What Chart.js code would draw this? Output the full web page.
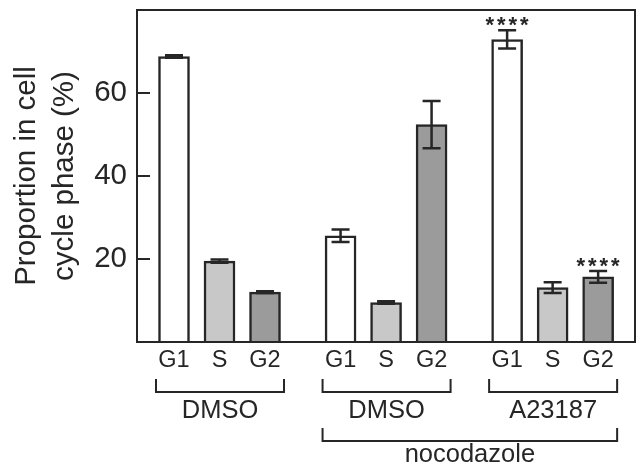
<!DOCTYPE html>
<html>
<head>
<meta charset="utf-8">
<script src="https://cdn.jsdelivr.net/npm/chart.js@4/dist/chart.umd.min.js"></script>
<style>
  html, body { margin: 0; padding: 0; background: #fff; }
  #wrap { width: 640px; height: 467px; }
</style>
</head>
<body>
<div id="wrap"><canvas id="cycleChart"></canvas></div>
<script>
const phases = ["G1", "S", "G2"];
const treatments = ["DMSO", "DMSO", "A23187"];
const meanValues = [68.8, 19.5, 12.0, 25.6, 9.5, 52.4, 72.9, 13.1, 15.7];
const errorValues = [0.3, 0.4, 0.2, 1.5, 0.3, 5.7, 2.2, 1.3, 1.4];
const starLabels = ["", "", "", "", "", "", "****", "", "****"];
const yTickValues = [20, 40, 60];
const nocodazoleLabel = "nocodazole";
const nocodazoleGroups = [1, 2];

const FONT = "'Liberation Sans', Arial, Helvetica, sans-serif";
const INK = "#262626";
const phaseColors = ["#ffffff", "#c8c8c8", "#9b9b9b"];
const groupStep = 3.66;

// bar positions on the linear x axis (layout only)
const barPositions = meanValues.map((_, i) => Math.floor(i / 3) * groupStep + (i % 3));
const barColors = meanValues.map((_, i) => phaseColors[i % 3]);

const extrasPlugin = {
  id: "extras",
  afterDatasetsDraw(chart) {
    const { ctx, chartArea } = chart;
    const yScale = chart.scales.y;
    const meta = chart.getDatasetMeta(0);

    ctx.save();
    ctx.strokeStyle = INK;
    ctx.lineWidth = 2.5;

    // error bars
    meta.data.forEach((bar, i) => {
      const top = yScale.getPixelForValue(meanValues[i] + errorValues[i]);
      const bottom = yScale.getPixelForValue(meanValues[i] - errorValues[i]);
      ctx.beginPath();
      ctx.moveTo(bar.x, top);
      ctx.lineTo(bar.x, bottom);
      ctx.moveTo(bar.x - 9, top);
      ctx.lineTo(bar.x + 9, top);
      ctx.moveTo(bar.x - 9, bottom);
      ctx.lineTo(bar.x + 9, bottom);
      ctx.stroke();

      if (starLabels[i]) {
        ctx.fillStyle = INK;
        ctx.font = "bold 22px " + FONT;
        ctx.textAlign = "center";
        ctx.textBaseline = "alphabetic";
        const stars = starLabels[i].split("");
        stars.forEach((s, k) => {
          const sx = bar.x + (k - (stars.length - 1) / 2) * 11.5;
          ctx.fillText(s, sx, top - 11 + 12.5);
        });
      }
    });

    // frame
    ctx.lineWidth = 2;
    ctx.strokeRect(chartArea.left, chartArea.top, chartArea.right - chartArea.left, chartArea.bottom - chartArea.top);

    // inward y ticks
    yTickValues.forEach((v) => {
      const y = yScale.getPixelForValue(v);
      ctx.beginPath();
      ctx.moveTo(chartArea.left, y);
      ctx.lineTo(chartArea.left + 13, y);
      ctx.stroke();
    });

    // group brackets
    const drawBracket = (x1, x2, yTop, yBottom) => {
      ctx.beginPath();
      ctx.moveTo(x1, yTop);
      ctx.lineTo(x1, yBottom);
      ctx.lineTo(x2, yBottom);
      ctx.lineTo(x2, yTop);
      ctx.stroke();
    };

    ctx.fillStyle = INK;
    ctx.font = "25.5px " + FONT;
    ctx.textAlign = "center";
    ctx.textBaseline = "alphabetic";

    treatments.forEach((name, g) => {
      const x1 = meta.data[g * 3].x - 18;
      const x2 = meta.data[g * 3 + 2].x + 19;
      drawBracket(x1, x2, 379, 392);
      ctx.fillText(name, (x1 + x2) / 2, 418);
    });

    const nx1 = meta.data[nocodazoleGroups[0] * 3].x - 18;
    const nx2 = meta.data[nocodazoleGroups[nocodazoleGroups.length - 1] * 3 + 2].x + 19;
    drawBracket(nx1, nx2, 428, 441);
    ctx.fillText(nocodazoleLabel, (nx1 + nx2) / 2, 462);

    ctx.restore();
  }
};

new Chart(document.getElementById("cycleChart"), {
  type: "bar",
  data: {
    datasets: [
      {
        data: meanValues.map((v, i) => ({ x: barPositions[i], y: v })),
        backgroundColor: barColors,
        borderColor: INK,
        borderWidth: 2.5,
        barThickness: 31
      }
    ]
  },
  options: {
    responsive: true,
    maintainAspectRatio: false,
    animation: false,
    layout: { padding: { top: 10, right: 5, left: 0, bottom: 0 } },
    plugins: {
      legend: { display: false },
      tooltip: { enabled: false }
    },
    scales: {
      x: {
        type: "linear",
        offset: false,
        min: -0.813,
        max: 10.13,
        grid: { display: false, drawTicks: false, offset: false },
        border: { display: true, color: INK, width: 2 },
        afterBuildTicks: (scale) => {
          scale.ticks = barPositions.map((v) => ({ value: v }));
        },
        afterFit: (scale) => {
          scale.height = 125;
          scale.paddingLeft = 0;
          scale.paddingRight = 0;
        },
        ticks: {
          autoSkip: false,
          maxRotation: 0,
          padding: 4,
          color: INK,
          font: { family: FONT, size: 23.5 },
          callback: (value, index) => phases[index % 3]
        }
      },
      y: {
        min: 0,
        max: 80,
        grid: { display: false, drawTicks: false },
        border: { display: true, color: INK, width: 2 },
        afterBuildTicks: (scale) => {
          scale.ticks = yTickValues.map((v) => ({ value: v }));
        },
        afterFit: (scale) => {
          scale.width = 137;
          scale.paddingTop = 0;
          scale.paddingBottom = 0;
        },
        ticks: {
          padding: 10,
          color: INK,
          font: { family: FONT, size: 29.5 }
        },
        title: {
          display: true,
          text: ["Proportion in cell", "cycle phase (%)"],
          color: INK,
          font: { family: FONT, size: 29.5, lineHeight: 1.29 },
          padding: { top: 8, bottom: 0 }
        }
      }
    }
  },
  plugins: [extrasPlugin]
});
</script>
</body>
</html>
